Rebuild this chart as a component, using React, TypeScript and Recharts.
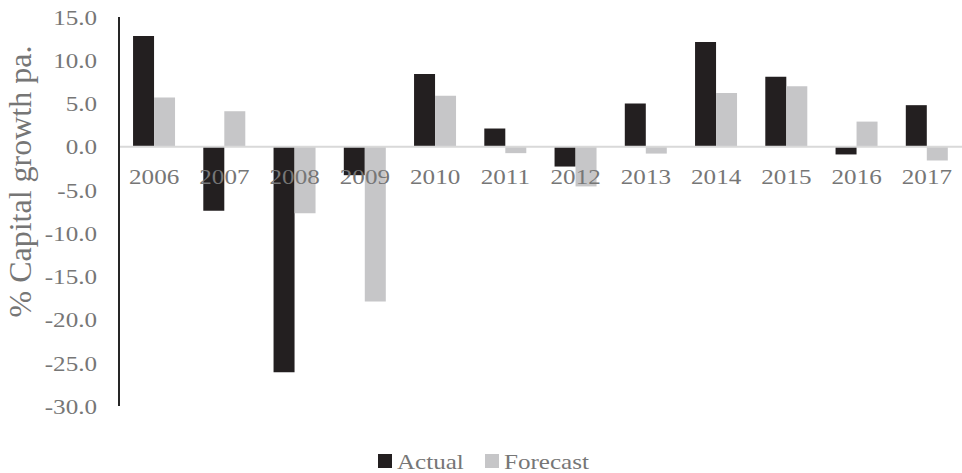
import React from 'react';
import { BarChart, Bar, XAxis, YAxis, ReferenceLine, Legend } from 'recharts';

const years = ['2006', '2007', '2008', '2009', '2010', '2011', '2012', '2013', '2014', '2015', '2016', '2017'];
const actual = [12.8, -7.4, -26.1, -3.3, 8.4, 2.1, -2.3, 5.0, 12.1, 8.1, -0.9, 4.8];
const forecast = [5.7, 4.1, -7.7, -17.9, 5.9, -0.75, -4.6, -0.8, 6.2, 7.0, 2.9, -1.6];
const yTicks = [15, 10, 5, 0, -5, -10, -15, -20, -25, -30];
const seriesNames = ['Actual', 'Forecast'];

const Y_MAX = 15;
const Y_MIN = -30;
const WIDTH = 962;
const HEIGHT = 473;
const PLOT_TOP = 17;
const X_AXIS_H = 37;
const LEGEND_H = 30;
const PLOT_BOTTOM = HEIGHT - X_AXIS_H - LEGEND_H;

const ACTUAL_COLOR = '#231f20';
const FORECAST_COLOR = '#c6c6c8';
const TEXT_COLOR = '#767676';
const FONT = '"Liberation Serif", "Times New Roman", serif';
const FONT_SIZE = 22;
// the original picture is a little wider than tall, text looks stretched sideways
const STRETCH = 1.14;

const data = years.map((year, i) => ({
    year,
    Actual: actual[i],
    Forecast: forecast[i],
}));

// category labels sit just under the zero line, not at the bottom of the plot
const zeroY = PLOT_TOP + (PLOT_BOTTOM - PLOT_TOP) * (Y_MAX / (Y_MAX - Y_MIN));

const YearTick = (props: any) => {
    const { x, payload } = props;
    return (
        <text
            transform={`translate(${x},${zeroY + 30}) scale(${STRETCH},1)`}
            dy="0.355em"
            textAnchor="middle"
            fill={TEXT_COLOR}
            fontSize={FONT_SIZE}
            fontFamily={FONT}
        >
            {payload.value}
        </text>
    );
};

const ValueTick = (props: any) => {
    const { x, y, payload } = props;
    return (
        <text
            transform={`translate(${x},${y}) scale(${STRETCH},1)`}
            dy="0.355em"
            textAnchor="end"
            fill={TEXT_COLOR}
            fontSize={FONT_SIZE}
            fontFamily={FONT}
        >
            {Number(payload.value).toFixed(1)}
        </text>
    );
};

const YLabel = (props: any) => {
    const { viewBox } = props;
    const cx = viewBox.x + 20;
    const cy = viewBox.y + viewBox.height / 2 - 30;
    return (
        <text
            transform={`translate(${cx},${cy}) rotate(-90)`}
            textAnchor="middle"
            dominantBaseline="central"
            fill={TEXT_COLOR}
            fontSize={32}
            fontFamily={FONT}
        >
            % Capital growth pa.
        </text>
    );
};

const LegendContent = () => {
    const colors = [ACTUAL_COLOR, FORECAST_COLOR];
    const starts = [378, 485];
    return (
        <svg width={WIDTH} height={LEGEND_H} style={{ display: 'block' }}>
            {seriesNames.map((name, i) => (
                <g key={name}>
                    <rect x={starts[i]} y={11} width={14} height={14} fill={colors[i]} />
                    <text
                        transform={`translate(${starts[i] + 19},18) scale(${STRETCH},1)`}
                        dy="0.355em"
                        fill={TEXT_COLOR}
                        fontSize={FONT_SIZE}
                        fontFamily={FONT}
                    >
                        {name}
                    </text>
                </g>
            ))}
        </svg>
    );
};

export default function App() {
    return (
        <div style={{ position: 'absolute', left: 0, top: 0, width: WIDTH, height: HEIGHT, background: '#fff' }}>
            <BarChart
                width={WIDTH}
                height={HEIGHT}
                data={data}
                margin={{ top: PLOT_TOP, right: 0, left: 0, bottom: 0 }}
                barCategoryGap="20%"
                barGap={0}
            >
                <YAxis
                    width={119}
                    domain={[Y_MIN, Y_MAX]}
                    ticks={yTicks}
                    interval={0}
                    tickLine={false}
                    tickSize={0}
                    tickMargin={22}
                    axisLine={{ stroke: '#262626', strokeWidth: 2 }}
                    tick={<ValueTick />}
                    label={<YLabel />}
                />
                <Bar dataKey="Actual" fill={ACTUAL_COLOR} isAnimationActive={false} />
                <Bar dataKey="Forecast" fill={FORECAST_COLOR} isAnimationActive={false} />
                <ReferenceLine y={0} stroke="#d9d9d9" strokeWidth={2} />
                <XAxis
                    dataKey="year"
                    height={X_AXIS_H}
                    axisLine={false}
                    tickLine={false}
                    interval={0}
                    tick={<YearTick />}
                />
                <Legend
                    verticalAlign="bottom"
                    height={LEGEND_H}
                    wrapperStyle={{ left: 0, width: WIDTH }}
                    content={<LegendContent />}
                />
            </BarChart>
        </div>
    );
}
